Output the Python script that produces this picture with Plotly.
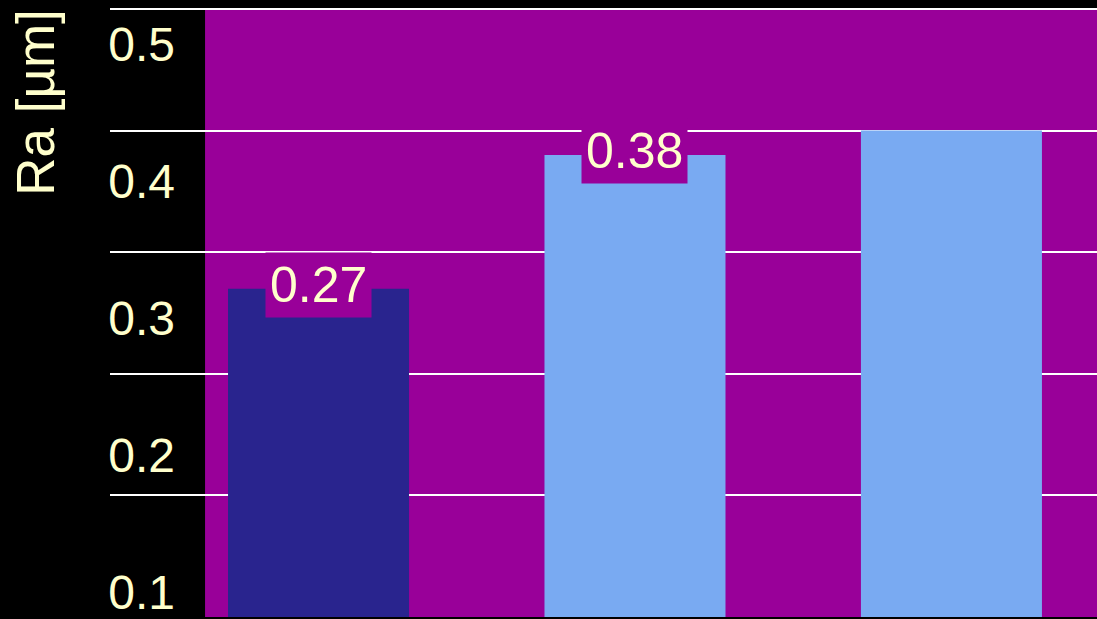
import plotly.graph_objects as go

categories = ["A", "B", "C"]
values = [0.27, 0.38, 0.40]
bar_labels = ["0.27", "0.38", ""]
bar_colors = ["#29248E", "#79AAF2", "#79AAF2"]
tick_vals = [0.1, 0.2, 0.3, 0.4, 0.5]
tick_text = ["0.1", "0.2", "0.3", "0.4", "0.5"]

TXT = "#FFFFCC"
PURPLE = "#990099"
FONT = "Liberation Sans, Arial, sans-serif"

fig = go.Figure()
fig.add_trace(go.Bar(x=categories, y=values, marker=dict(color=bar_colors, line=dict(width=0)),
                     width=0.572, showlegend=False, hoverinfo="skip"))
# invisible helper so the label axis is drawn
fig.add_trace(go.Scatter(x=[categories[0]], y=[tick_vals[0]], yaxis="y2", mode="markers",
                         marker=dict(opacity=0, size=1), showlegend=False, hoverinfo="skip"))

for c, v, t in zip(categories, values, bar_labels):
    if t:
        fig.add_annotation(x=c, y=v, xref="x", yref="y", text=t, showarrow=False,
                           font=dict(family=FONT, size=50, color=TXT),
                           bgcolor=PURPLE, borderpad=4, yanchor="middle", xanchor="center",
                           yshift=4)

fig.add_annotation(x=-0.075, y=0.835, xref="paper", yref="paper", text="Ra [µm]",
                   textangle=-90, showarrow=False, xanchor="center", yanchor="middle",
                   font=dict(family=FONT, size=53, color=TXT))

fig.add_shape(type="rect", xref="paper", yref="y", x0=0.0963, x1=1, y0=0, y1=0.5,
              fillcolor=PURPLE, line=dict(width=0), layer="below")

fig.update_layout(
    width=1097, height=619,
    margin=dict(l=110, r=0, t=0, b=0),
    paper_bgcolor="#000000", plot_bgcolor="#000000",
    font=dict(family=FONT, color=TXT),
    xaxis=dict(range=[-0.659, 2.46], showticklabels=False, showgrid=False, zeroline=False,
               ticks="", showline=False),
    yaxis=dict(range=[0, 0.5074], tickvals=tick_vals, showticklabels=False, showgrid=True,
               gridcolor="#FFFFFF", gridwidth=2, zeroline=False, ticks="", showline=False),
    yaxis2=dict(overlaying="y", anchor="free", position=0.0659, side="left",
                range=[0.0822, 0.5324], tickvals=tick_vals, ticktext=tick_text,
                showgrid=False, zeroline=False, ticks="", showline=False,
                ticklabeloverflow="allow",
                tickfont=dict(family=FONT, size=48, color=TXT)),
)

fig.write_html("out.html", config={"displayModeBar": False},
               post_script="document.body.style.margin='0';document.body.style.background='#000';")
